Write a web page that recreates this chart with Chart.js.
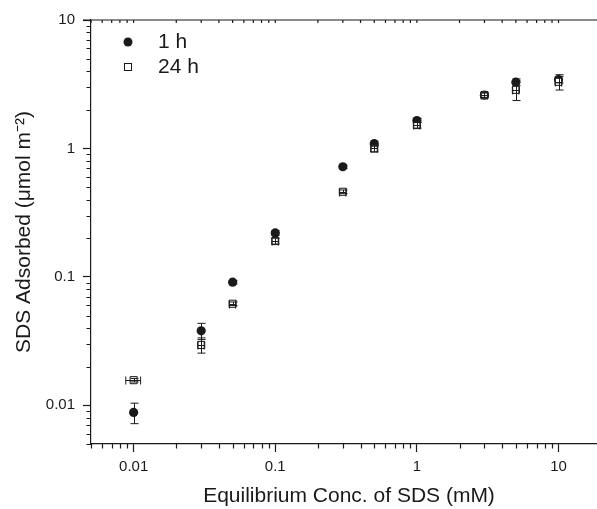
<!DOCTYPE html>
<html><head><meta charset="utf-8">
<script src="https://cdn.jsdelivr.net/npm/chart.js@4"></script>
<style>html,body{margin:0;padding:0;overflow:hidden;background:#fff}#wrap{width:613px;height:509px}</style>
</head><body><div id="wrap"><canvas id="c" width="613" height="509"></canvas></div>
<script>
// ---- data ----
const conc      = [0.01, 0.03, 0.05, 0.1, 0.3, 0.5, 1, 3, 5, 10];
const ads1h     = [0.0088, 0.038, 0.091, 0.22, 0.72, 1.09, 1.65, 2.6, 3.28, 3.44];
const err1h     = [0.0016, 0.0055, 0.003, 0.01, 0.02, 0.05, 0.06, 0.1, 0.2, 0.2];
const ads24h    = [0.0157, 0.0295, 0.0618, 0.19, 0.46, 1.0, 1.52, 2.6, 2.86, 3.3];
const err24h    = [0.0005, 0.004, 0.002, 0.01, 0.015, 0.06, 0.08, 0.12, 0.5, 0.45];
const xerr24h   = [0.0012, 0.0015, 0.0025, 0.005, 0.015, 0.025, 0.05, 0.15, 0.25, 0.5];
const xTickLabels = [0.01, 0.1, 1, 10];
const yTickLabels = [0.01, 0.1, 1, 10];
const minorSteps  = [1, 2, 3, 4, 5, 6, 7, 8, 9];
const seriesNames = ['1 h', '24 h'];

const FONT = "'Liberation Sans', Arial, sans-serif";
const INK = '#1a1a1a';

function logTicks(min, max, majors) {
  const out = [];
  for (let e = -4; e <= 3; e++) {
    for (const m of minorSteps) {
      const v = parseFloat((m * Math.pow(10, e)).toPrecision(6));
      if (v >= min * 0.9999 && v <= max * 1.0001) {
        out.push({ value: v, major: majors.some(t => Math.abs(t - v) / t < 1e-6) });
      }
    }
  }
  return out;
}

const errorBars = {
  id: 'errorBars',
  afterDatasetsDraw(chart) {
    const { ctx, scales: { x, y } } = chart;
    ctx.save();
    ctx.strokeStyle = INK;
    ctx.lineWidth = 1;
    const cap = 4;
    const sets = [[ads1h, err1h, null], [ads24h, err24h, xerr24h]];
    for (const [vals, ye, xe] of sets) {
      conc.forEach((c, i) => {
        const px = Math.round(x.getPixelForValue(c)) + 0.5;
        const py = y.getPixelForValue(vals[i]);
        const yt = y.getPixelForValue(vals[i] + ye[i]);
        const yb = y.getPixelForValue(vals[i] - ye[i]);
        ctx.beginPath();
        ctx.moveTo(px, yt); ctx.lineTo(px, yb);
        ctx.moveTo(px - cap, yt); ctx.lineTo(px + cap, yt);
        ctx.moveTo(px - cap, yb); ctx.lineTo(px + cap, yb);
        if (xe) {
          const xl = x.getPixelForValue(c - xe[i]);
          const xr = x.getPixelForValue(c + xe[i]);
          const pyr = Math.round(py) + 0.5;
          ctx.moveTo(xl, pyr); ctx.lineTo(xr, pyr);
          ctx.moveTo(xl, pyr - cap); ctx.lineTo(xl, pyr + cap);
          ctx.moveTo(xr, pyr - cap); ctx.lineTo(xr, pyr + cap);
        }
        ctx.stroke();
      });
    }
    ctx.restore();
  },
  afterDraw(chart) {
    const { ctx, chartArea: a, scales: { x, y } } = chart;
    ctx.save();
    ctx.strokeStyle = INK;
    ctx.lineWidth = 1.2;
    // top frame line with inward ticks
    ctx.beginPath();
    ctx.moveTo(a.left - 8, a.top); ctx.lineTo(a.right, a.top);
    x.ticks.forEach(t => {
      const px = x.getPixelForValue(t.value);
      ctx.moveTo(px, a.top); ctx.lineTo(px, a.top + 3);
    });
    // minor ticks outward on bottom & left
    x.ticks.forEach(t => {
      if (t.major) return;
      const px = Math.round(x.getPixelForValue(t.value)) + 0.5;
      ctx.moveTo(px, a.bottom); ctx.lineTo(px, a.bottom + 4.5);
    });
    y.ticks.forEach(t => {
      if (t.major) return;
      const py = Math.round(y.getPixelForValue(t.value)) + 0.5;
      ctx.moveTo(a.left, py); ctx.lineTo(a.left - 4.5, py);
    });
    ctx.stroke();
    // legend
    const lx = 128, ly = [42, 67];
    ctx.fillStyle = INK;
    ctx.beginPath(); ctx.arc(lx, ly[0], 4.5, 0, Math.PI * 2); ctx.fill();
    ctx.lineWidth = 1;
    ctx.fillStyle = '#fff';
    ctx.fillRect(lx - 3.5, ly[1] - 3.5, 7, 7);
    ctx.strokeRect(lx - 3.5, ly[1] - 3.5, 7, 7);
    ctx.fillStyle = INK;
    ctx.font = '21px ' + FONT;
    ctx.textBaseline = 'middle';
    ctx.textAlign = 'left';
    ctx.fillText(seriesNames[0], 158, ly[0]);
    ctx.fillText(seriesNames[1], 158, ly[1]);
    ctx.restore();
  }
};

const tickFont = { family: FONT, size: 15 };
const titleFont = { family: FONT, size: 21 };

new Chart(document.getElementById('c'), {
  type: 'scatter',
  data: {
    datasets: [
      {
        label: seriesNames[1],
        data: conc.map((c, i) => ({ x: c, y: ads24h[i] })),
        pointStyle: 'rect', pointRadius: 5, pointBackgroundColor: '#fff',
        pointBorderColor: INK, pointBorderWidth: 1, order: 0
      },
      {
        label: seriesNames[0],
        data: conc.map((c, i) => ({ x: c, y: ads1h[i] })),
        pointStyle: 'circle', pointRadius: 4.6, pointBackgroundColor: INK,
        pointBorderColor: INK, pointBorderWidth: 0, order: 1
      }
    ]
  },
  options: {
    responsive: false, animation: false, devicePixelRatio: 1,
    layout: { padding: { top: 20, right: 1, left: 0, bottom: 0 } },
    plugins: { legend: { display: false }, tooltip: { enabled: false } },
    scales: {
      x: {
        type: 'logarithmic', position: 'bottom', min: 0.005, max: 22,
        afterBuildTicks: s => { s.ticks = logTicks(0.005, 22, xTickLabels); },
        afterFit: s => { s.height = 65; },
        border: { display: true, color: INK, width: 1.2 },
        grid: { display: true, drawOnChartArea: false, drawTicks: true, tickLength: 8,
                tickColor: c => (c.tick && c.tick.major) ? INK : 'rgba(0,0,0,0)', tickWidth: 1.2 },
        ticks: { autoSkip: false, maxRotation: 0, padding: 6, color: INK, font: tickFont,
                 callback: (v, i, t) => t[i].major ? String(v) : '' },
        title: { display: true, text: 'Equilibrium Conc. of SDS (mM)', color: INK, font: titleFont,
                 padding: { top: 0, bottom: 0 } }
      },
      y: {
        type: 'logarithmic', position: 'left', min: 0.005, max: 10,
        afterBuildTicks: s => { s.ticks = logTicks(0.005, 10, yTickLabels); },
        afterFit: s => { s.width = 91; },
        border: { display: true, color: INK, width: 1.2 },
        grid: { display: true, drawOnChartArea: false, drawTicks: true, tickLength: 8,
                tickColor: c => (c.tick && c.tick.major) ? INK : 'rgba(0,0,0,0)', tickWidth: 1.2 },
        ticks: { autoSkip: false, padding: 8, color: INK, font: tickFont,
                 callback: (v, i, t) => t[i].major ? String(v) : '' },
        title: { display: true, text: 'SDS Adsorbed (μmol m⁻²)', color: INK, font: titleFont,
                 padding: { top: 12, bottom: 0 } }
      }
    }
  },
  plugins: [errorBars]
});
</script>
</body></html>
